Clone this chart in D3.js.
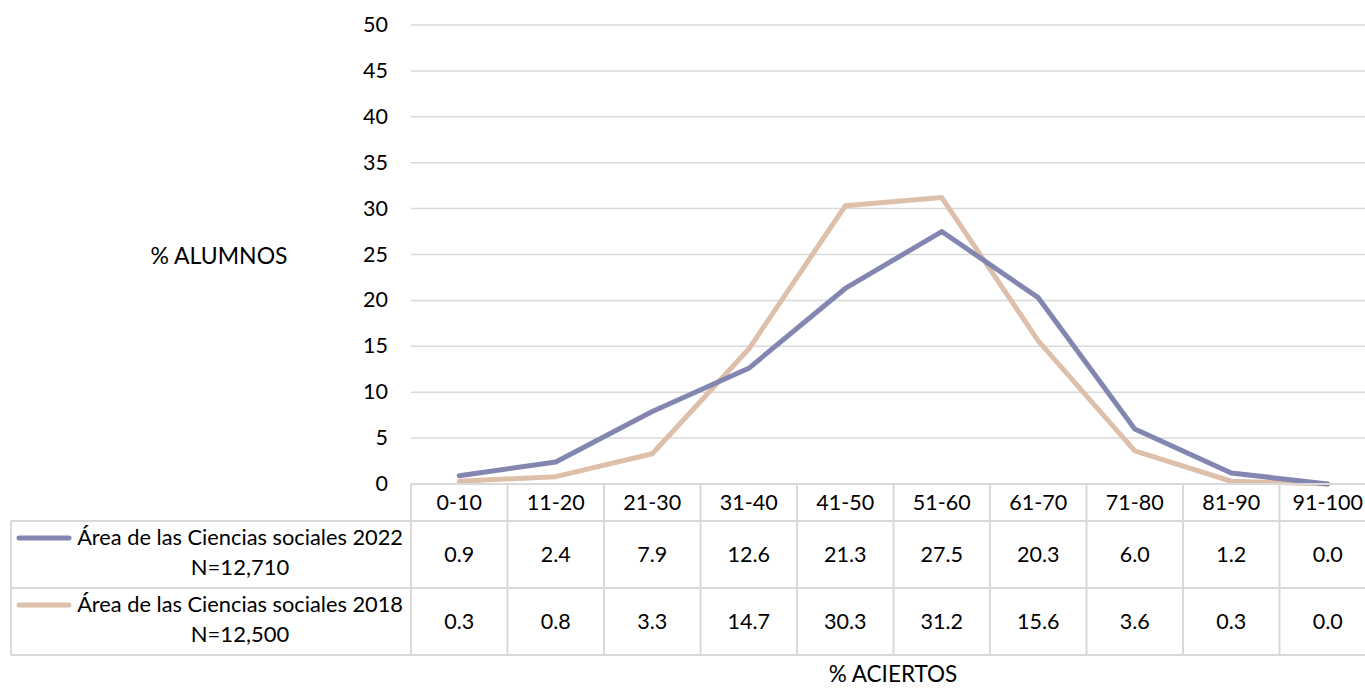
<!DOCTYPE html>
<html>
<head>
<meta charset="utf-8">
<script src="https://cdn.jsdelivr.net/npm/d3@7"></script>
<style>
  body { margin: 0; background: #fff; overflow: hidden; }
  svg text { font-family: Lato, "Open Sans", sans-serif; fill: #000; }
</style>
</head>
<body>
<div id="chart"></div>
<script>
// data
var categories = ['0-10','11-20','21-30','31-40','41-50','51-60','61-70','71-80','81-90','91-100']
var values2022 = [0.9, 2.4, 7.9, 12.6, 21.3, 27.5, 20.3, 6.0, 1.2, 0.0]
var values2018 = [0.3, 0.8, 3.3, 14.7, 30.3, 31.2, 15.6, 3.6, 0.3, 0.0]
var seriesNames = ['Área de las Ciencias sociales 2022', 'Área de las Ciencias sociales 2018']
var seriesN = ['N=12,710', 'N=12,500']
var yTicks = [0, 5, 10, 15, 20, 25, 30, 35, 40, 45, 50]

var width = 1365
var height = 688
var plotLeft = 411
var colW = 96.5
var plotTop = 25
var plotBottom = 484
var tableLeft = 11
var rowTops = [484, 521, 588, 655]
var colors = ['#8286b0', '#dec0aa']
var gridColor = '#d9d9d9'
var fs = 21.5

var svg = d3.select('#chart').append('svg')
  .attr('width', width)
  .attr('height', height)

var x = d3.scaleBand()
  .domain(categories)
  .range([plotLeft, plotLeft + colW * categories.length])

var y = d3.scaleLinear()
  .domain([0, 50])
  .range([plotBottom, plotTop])

// gridlines
svg.append('g').selectAll('line')
  .data(yTicks)
  .enter().append('line')
  .attr('x1', plotLeft).attr('x2', width)
  .attr('y1', function(d){ return y(d) }).attr('y2', function(d){ return y(d) })
  .attr('stroke', gridColor).attr('stroke-width', 1.5)

// y labels
svg.append('g').selectAll('text')
  .data(yTicks)
  .enter().append('text')
  .attr('x', 388)
  .attr('y', function(d){ return y(d) + 7 })
  .attr('text-anchor', 'end')
  .attr('font-size', fs)
  .text(function(d){ return d })

svg.append('text')
  .attr('x', 219).attr('y', 264)
  .attr('text-anchor', 'middle')
  .attr('font-size', 23)
  .text('% ALUMNOS')

// lines
var line = d3.line()
  .x(function(d, i){ return x(categories[i]) + x.bandwidth() / 2 })
  .y(function(d){ return y(d) })

;[values2018, values2022].forEach(function(vals, k) {
  svg.append('path')
    .datum(vals)
    .attr('d', line)
    .attr('fill', 'none')
    .attr('stroke', k === 0 ? colors[1] : colors[0])
    .attr('stroke-width', 5)
    .attr('stroke-linejoin', 'round')
    .attr('stroke-linecap', 'round')
})

// data table
var tbl = svg.append('g')
var tableRight = plotLeft + colW * categories.length

// horizontal borders
tbl.append('line')
  .attr('x1', plotLeft).attr('x2', tableRight)
  .attr('y1', rowTops[0]).attr('y2', rowTops[0])
  .attr('stroke', gridColor).attr('stroke-width', 2)
rowTops.slice(1).forEach(function(yy) {
  tbl.append('line')
    .attr('x1', tableLeft).attr('x2', tableRight)
    .attr('y1', yy).attr('y2', yy)
    .attr('stroke', gridColor).attr('stroke-width', 2)
})

// vertical borders
d3.range(categories.length + 1).forEach(function(i) {
  var xx = plotLeft + i * colW
  tbl.append('line')
    .attr('x1', xx).attr('x2', xx)
    .attr('y1', rowTops[0]).attr('y2', rowTops[3])
    .attr('stroke', gridColor).attr('stroke-width', 2)
})
tbl.append('line')
  .attr('x1', tableLeft).attr('x2', tableLeft)
  .attr('y1', rowTops[1]).attr('y2', rowTops[3])
  .attr('stroke', gridColor).attr('stroke-width', 2)

// header
tbl.selectAll('text.cat')
  .data(categories)
  .enter().append('text')
  .attr('class', 'cat')
  .attr('x', function(d){ return x(d) + x.bandwidth() / 2 })
  .attr('y', 510)
  .attr('text-anchor', 'middle')
  .attr('font-size', fs)
  .text(function(d){ return d })

// rows
;[values2022, values2018].forEach(function(vals, r) {
  var top = rowTops[r + 1]
  var mid = (top + rowTops[r + 2]) / 2
  tbl.selectAll('text.v' + r)
    .data(vals)
    .enter().append('text')
    .attr('class', 'v' + r)
    .attr('x', function(d, i){ return x(categories[i]) + x.bandwidth() / 2 })
    .attr('y', mid + 7)
    .attr('text-anchor', 'middle')
    .attr('font-size', fs)
    .text(function(d){ return d.toFixed(1) })

  tbl.append('line')
    .attr('x1', 19).attr('x2', 69)
    .attr('y1', top + 17).attr('y2', top + 17)
    .attr('stroke', colors[r]).attr('stroke-width', 5)
    .attr('stroke-linecap', 'round')

  tbl.append('text')
    .attr('x', 403).attr('y', top + 24)
    .attr('text-anchor', 'end')
    .attr('font-size', 21.8)
    .text(seriesNames[r])

  tbl.append('text')
    .attr('x', 240).attr('y', top + 54)
    .attr('text-anchor', 'middle')
    .attr('font-size', 22)
    .text(seriesN[r])
})

svg.append('text')
  .attr('x', 893).attr('y', 682)
  .attr('text-anchor', 'middle')
  .attr('font-size', 22.5)
  .text('% ACIERTOS')
</script>
</body>
</html>
